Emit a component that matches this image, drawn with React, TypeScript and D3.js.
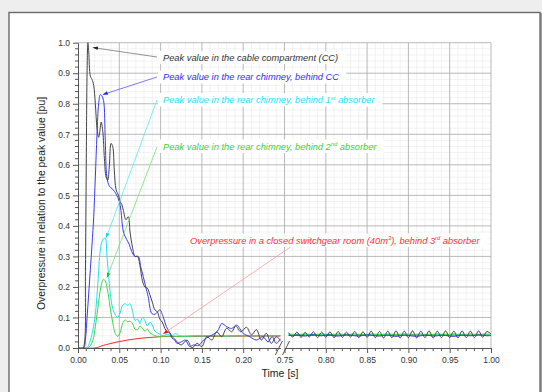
import React, { useRef, useEffect } from 'react';
import * as d3 from 'd3';

const W = 542;
const H = 392;

// peak value in the cable compartment (black)
const ccTime = [0, 0.006, 0.008, 0.009, 0.010, 0.011, 0.012, 0.013, 0.015, 0.017, 0.019, 0.021, 0.023, 0.025, 0.026, 0.028, 0.030, 0.032, 0.034, 0.036, 0.038, 0.040, 0.042, 0.044, 0.046, 0.049, 0.051, 0.053, 0.055, 0.058, 0.061, 0.063, 0.066, 0.069, 0.072, 0.075, 0.078, 0.081, 0.084, 0.087, 0.090, 0.093, 0.096, 0.099, 0.102, 0.105, 0.108, 0.111, 0.114, 0.117, 0.120, 0.125, 0.132, 0.138, 0.144, 0.150, 0.156, 0.162, 0.168, 0.174, 0.180, 0.186, 0.191, 0.197, 0.204, 0.210, 0.216, 0.222, 0.228, 0.234, 0.240, 0.245];
const ccValue = [0, 0, 0.02, 0.25, 0.6, 0.9, 1.0, 0.97, 0.89, 0.88, 0.86, 0.80, 0.72, 0.69, 0.70, 0.74, 0.71, 0.62, 0.56, 0.55, 0.60, 0.67, 0.66, 0.58, 0.52, 0.50, 0.48, 0.47, 0.45, 0.42, 0.43, 0.38, 0.33, 0.30, 0.30, 0.27, 0.22, 0.20, 0.196, 0.175, 0.15, 0.125, 0.119, 0.095, 0.085, 0.065, 0.053, 0.05, 0.037, 0.03, 0.02, 0.01, 0.026, 0.0, 0.015, 0.005, 0.037, 0.026, 0.053, 0.037, 0.065, 0.053, 0.072, 0.053, 0.068, 0.043, 0.06, 0.026, 0.048, 0.015, 0.037, 0.025];

// rear chimney behind CC (blue)
const rcTime = [0, 0.007, 0.009, 0.011, 0.013, 0.015, 0.017, 0.019, 0.021, 0.023, 0.025, 0.027, 0.029, 0.031, 0.033, 0.035, 0.038, 0.042, 0.046, 0.050, 0.052, 0.055, 0.059, 0.062, 0.065, 0.069, 0.073, 0.076, 0.079, 0.082, 0.085, 0.089, 0.092, 0.095, 0.099, 0.103, 0.107, 0.111, 0.114, 0.117, 0.120, 0.125, 0.130, 0.135, 0.140, 0.146, 0.152, 0.158, 0.166, 0.170, 0.174, 0.180, 0.186, 0.192, 0.200, 0.208, 0.216, 0.224, 0.230, 0.235, 0.240, 0.245];
const rcValue = [0, 0, 0.03, 0.10, 0.18, 0.26, 0.34, 0.43, 0.56, 0.70, 0.80, 0.83, 0.825, 0.81, 0.68, 0.56, 0.53, 0.52, 0.505, 0.48, 0.45, 0.38, 0.355, 0.34, 0.316, 0.30, 0.30, 0.265, 0.234, 0.20, 0.168, 0.114, 0.11, 0.114, 0.125, 0.103, 0.07, 0.05, 0.032, 0.026, 0.015, 0.02, 0.026, 0.005, 0.01, 0.008, 0.026, 0.037, 0.048, 0.06, 0.08, 0.07, 0.064, 0.075, 0.048, 0.037, 0.026, 0.037, 0.02, 0.037, 0.015, 0.03];

// rear chimney behind 1st absorber (cyan)
const a1Time = [0, 0.010, 0.012, 0.015, 0.018, 0.021, 0.024, 0.027, 0.030, 0.033, 0.035, 0.037, 0.039, 0.042, 0.045, 0.048, 0.051, 0.054, 0.057, 0.060, 0.063, 0.066, 0.069, 0.072, 0.075, 0.078, 0.081, 0.084, 0.087, 0.090, 0.093, 0.096, 0.099, 0.103, 0.108, 0.113, 0.118, 0.123, 0.130, 0.140, 0.150, 0.160, 0.170, 0.180, 0.190, 0.200, 0.210, 0.220, 0.230, 0.245];
const a1Value = [0, 0, 0.005, 0.025, 0.06, 0.11, 0.21, 0.32, 0.355, 0.36, 0.30, 0.24, 0.18, 0.13, 0.11, 0.10, 0.115, 0.14, 0.145, 0.14, 0.145, 0.12, 0.09, 0.095, 0.08, 0.10, 0.09, 0.072, 0.085, 0.075, 0.055, 0.05, 0.045, 0.04, 0.045, 0.04, 0.047, 0.04, 0.038, 0.04, 0.039, 0.04, 0.041, 0.039, 0.04, 0.041, 0.04, 0.041, 0.04, 0.041];

// rear chimney behind 2nd absorber (green)
const a2Time = [0, 0.012, 0.015, 0.018, 0.021, 0.024, 0.027, 0.029, 0.031, 0.033, 0.035, 0.037, 0.039, 0.041, 0.043, 0.045, 0.048, 0.051, 0.054, 0.057, 0.060, 0.063, 0.066, 0.069, 0.072, 0.075, 0.078, 0.081, 0.084, 0.087, 0.090, 0.093, 0.100, 0.110, 0.120, 0.135, 0.150, 0.170, 0.190, 0.210, 0.230, 0.245];
const a2Value = [0, 0, 0.008, 0.025, 0.07, 0.13, 0.19, 0.215, 0.225, 0.22, 0.20, 0.17, 0.13, 0.10, 0.07, 0.048, 0.038, 0.05, 0.08, 0.092, 0.086, 0.088, 0.08, 0.062, 0.06, 0.072, 0.065, 0.055, 0.062, 0.05, 0.045, 0.04, 0.038, 0.039, 0.038, 0.039, 0.04, 0.039, 0.04, 0.04, 0.04, 0.041];

// closed switchgear room behind 3rd absorber (red)
const a3Time = [0, 0.020, 0.025, 0.030, 0.040, 0.050, 0.060, 0.070, 0.080, 0.090, 0.100, 0.110, 0.130, 0.160, 0.200, 0.245];
const a3Value = [0, 0, 0.003, 0.008, 0.015, 0.021, 0.026, 0.030, 0.033, 0.035, 0.037, 0.038, 0.038, 0.038, 0.039, 0.039];

// after the axis break
const rightTime = [0.755, 0.76, 0.765, 0.77, 0.775, 0.78, 0.785, 0.79, 0.795, 0.8, 0.805, 0.81, 0.815, 0.82, 0.825, 0.83, 0.835, 0.84, 0.845, 0.85, 0.855, 0.86, 0.865, 0.87, 0.875, 0.88, 0.885, 0.89, 0.895, 0.9, 0.905, 0.91, 0.915, 0.92, 0.925, 0.93, 0.935, 0.94, 0.945, 0.95, 0.955, 0.96, 0.965, 0.97, 0.975, 0.98, 0.985, 0.99, 0.995, 1.0];
const ccRight = [0.050, 0.036, 0.052, 0.035, 0.051, 0.036, 0.053, 0.034, 0.052, 0.035, 0.053, 0.034, 0.054, 0.035, 0.052, 0.036, 0.054, 0.034, 0.053, 0.035, 0.055, 0.034, 0.054, 0.033, 0.055, 0.034, 0.056, 0.033, 0.055, 0.034, 0.056, 0.033, 0.055, 0.034, 0.056, 0.033, 0.055, 0.034, 0.056, 0.034, 0.055, 0.033, 0.056, 0.034, 0.055, 0.034, 0.056, 0.035, 0.054, 0.046];
const rcRight = [0.042, 0.040, 0.043, 0.041, 0.039, 0.042, 0.044, 0.041, 0.040, 0.042, 0.043, 0.040, 0.039, 0.041, 0.043, 0.042, 0.040, 0.039, 0.041, 0.043, 0.042, 0.040, 0.039, 0.041, 0.042, 0.040, 0.038, 0.040, 0.042, 0.041, 0.039, 0.038, 0.040, 0.042, 0.041, 0.039, 0.040, 0.042, 0.041, 0.039, 0.038, 0.040, 0.042, 0.041, 0.040, 0.041, 0.043, 0.042, 0.040, 0.041];
const a1Right = [0.044, 0.043, 0.045, 0.044, 0.043, 0.044, 0.045, 0.044, 0.043, 0.044, 0.045, 0.044, 0.043, 0.044, 0.045, 0.044, 0.043, 0.044, 0.045, 0.044, 0.043, 0.044, 0.045, 0.044, 0.043, 0.044, 0.045, 0.044, 0.043, 0.044, 0.045, 0.044, 0.043, 0.044, 0.045, 0.044, 0.043, 0.044, 0.045, 0.044, 0.043, 0.044, 0.045, 0.044, 0.043, 0.044, 0.045, 0.044, 0.043, 0.044];
const a2Right = [0.046, 0.045, 0.044, 0.045, 0.046, 0.045, 0.044, 0.045, 0.046, 0.045, 0.044, 0.045, 0.046, 0.045, 0.044, 0.045, 0.046, 0.045, 0.044, 0.045, 0.046, 0.045, 0.044, 0.045, 0.046, 0.045, 0.044, 0.045, 0.046, 0.045, 0.044, 0.045, 0.046, 0.045, 0.044, 0.045, 0.046, 0.045, 0.044, 0.045, 0.046, 0.045, 0.044, 0.045, 0.046, 0.045, 0.044, 0.045, 0.046, 0.045];
const a3RightTime = [0.755, 0.8, 0.85, 0.9, 0.95, 1.0];
const a3Right = [0.041, 0.041, 0.042, 0.042, 0.042, 0.042];

const xTicksLeft = [0, 0.05, 0.1, 0.15, 0.2];
const xTicksRight = [0.75, 0.8, 0.85, 0.9, 0.95, 1.0];
const yTicks = [0, 0.1, 0.2, 0.3, 0.4, 0.5, 0.6, 0.7, 0.8, 0.9, 1.0];

// annotation texts (odd parts are superscripts) and the point each arrow marks
const labelParts = [
  ['Peak value in the cable compartment (CC)'],
  ['Peak value in the rear chimney, behind CC'],
  ['Peak value in the rear chimney, behind 1', 'st', ' absorber'],
  ['Peak value in the rear chimney, behind 2', 'nd', ' absorber'],
  ['Overpressure in a closed switchgear room (40m', '3', '), behind 3', 'rd', ' absorber'],
];
const annotTime = [0.018, 0.030, 0.034, 0.035, 0.103];
const annotValue = [0.984, 0.83, 0.36, 0.23, 0.046];

const App = () => {
  const svgRef = useRef<SVGSVGElement>(null);

  useEffect(() => {
    const svg = d3.select(svgRef.current);
    svg.selectAll('*').remove();
    const font = '"Liberation Sans", Arial, sans-serif';

    // page + frame
    svg.append('rect').attr('width', W).attr('height', H).attr('fill', '#eeeeee');
    svg.append('rect').attr('x', 540).attr('y', 13).attr('width', 2).attr('height', H).attr('fill', '#a0a0a0');
    svg.append('rect').attr('x', 9).attr('y', 12.5).attr('width', 531).attr('height', H)
      .attr('fill', '#fff').attr('stroke', '#6a6a6a').attr('stroke-width', 1.4);

    const left = 78, right = 491, top = 42.7, bottom = 348;
    const x0 = d3.scaleLinear().domain([0, 0.245]).range([left, left + 0.245 * 826]);
    const x1 = d3.scaleLinear().domain([0.75, 1]).range([284.5, right]);
    const xAt = (t: number) => (t < 0.5 ? x0(t) : x1(t));
    const y = d3.scaleLinear().domain([0, 1]).range([bottom, top]);

    // grid
    const grid = svg.append('g');
    const minorX = [...d3.range(0.01, 0.245, 0.01), ...d3.range(0.76, 0.995, 0.01)]
      .filter((t) => Math.abs(t * 20 - Math.round(t * 20)) > 0.01);
    const minorY = d3.range(0.02, 1.0, 0.02).filter((v) => Math.abs(v * 10 - Math.round(v * 10)) > 0.01);
    grid.selectAll('.mx').data(minorX).enter().append('line')
      .attr('x1', xAt).attr('x2', xAt).attr('y1', top).attr('y2', bottom)
      .attr('stroke', '#ececec').attr('stroke-width', 0.7);
    grid.selectAll('.my').data(minorY).enter().append('line')
      .attr('x1', left).attr('x2', right).attr('y1', y).attr('y2', y)
      .attr('stroke', '#ececec').attr('stroke-width', 0.7);
    grid.selectAll('.Mx').data([...xTicksLeft.slice(1), ...xTicksRight]).enter().append('line')
      .attr('x1', xAt).attr('x2', xAt).attr('y1', top).attr('y2', bottom)
      .attr('stroke', '#a8a8a8').attr('stroke-width', 0.8);
    grid.selectAll('.My').data(yTicks.slice(1)).enter().append('line')
      .attr('x1', left).attr('x2', right).attr('y1', y).attr('y2', y)
      .attr('stroke', '#a8a8a8').attr('stroke-width', 0.8);

    // curves (black drawn last so its oscillation stays visible)
    const line = d3.line<[number, number]>()
      .x((d) => xAt(d[0])).y((d) => y(d[1]))
      .curve(d3.curveCatmullRom.alpha(0.5));
    const series = [
      { t: a3Time, v: a3Value, tr: a3RightTime, vr: a3Right, color: '#ff2626' },
      { t: a1Time, v: a1Value, tr: rightTime, vr: a1Right, color: '#1fe3ef' },
      { t: a2Time, v: a2Value, tr: rightTime, vr: a2Right, color: '#3fd83f' },
      { t: rcTime, v: rcValue, tr: rightTime, vr: rcRight, color: '#3c3cf0' },
      { t: ccTime, v: ccValue, tr: rightTime, vr: ccRight, color: '#454545' },
    ];
    const curves = svg.append('g').attr('fill', 'none').attr('stroke-width', 1);
    series.forEach((s) => {
      curves.append('path').attr('d', line(s.t.map((t, i) => [t, s.v[i]] as [number, number])))
        .attr('stroke', s.color);
      curves.append('path').attr('d', line(s.tr.map((t, i) => [t, s.vr[i]] as [number, number])))
        .attr('stroke', s.color);
    });

    // axes
    const axes = svg.append('g').attr('font-family', font);
    const fmt2 = d3.format('.2f');
    const style = (g: any) => {
      g.selectAll('path.domain').attr('stroke', '#555');
      g.selectAll('line').attr('stroke', '#555');
      g.selectAll('text').attr('fill', '#333').attr('font-size', 8.5).attr('font-family', font);
    };
    axes.append('g').attr('transform', `translate(0,${bottom})`)
      .call(d3.axisBottom(x0).tickValues(xTicksLeft).tickFormat(fmt2 as any).tickSize(5).tickSizeOuter(0).tickPadding(4))
      .call(style);
    axes.append('g').attr('transform', `translate(0,${bottom})`)
      .call(d3.axisBottom(x1).tickValues(xTicksRight).tickFormat(fmt2 as any).tickSize(5).tickSizeOuter(0).tickPadding(4))
      .call(style);
    axes.selectAll('.mtx').data(minorX).enter().append('line')
      .attr('x1', xAt).attr('x2', xAt).attr('y1', bottom).attr('y2', bottom + 3)
      .attr('stroke', '#555');
    axes.append('g').attr('transform', `translate(${left},0)`)
      .call(d3.axisLeft(y).tickValues(yTicks).tickFormat(d3.format('.1f') as any).tickSize(5).tickSizeOuter(0).tickPadding(3))
      .call(style);
    axes.selectAll('.mty').data(minorY).enter().append('line')
      .attr('x1', left - 3).attr('x2', left).attr('y1', y).attr('y2', y)
      .attr('stroke', '#555');

    // axis break marks
    const bx0 = x0(0.245), bx1 = x1(0.75);
    [bx0 - 1.5, bx1 + 1.5].forEach((bx) => {
      axes.append('line').attr('x1', bx - 3.5).attr('y1', bottom + 7).attr('x2', bx + 3.5).attr('y2', bottom - 7)
        .attr('stroke', '#555').attr('stroke-width', 1);
    });

    axes.append('text').attr('x', 280).attr('y', 377).attr('text-anchor', 'middle')
      .attr('font-size', 10.5).attr('fill', '#222').text('Time [s]');
    axes.append('text').attr('transform', 'translate(45,203.5) rotate(-90)').attr('text-anchor', 'middle')
      .attr('font-size', 10.4).attr('fill', '#222').text('Overpressure in relation to the peak value [pu]');

    // annotations
    const labelPos = [[163, 60.5], [163, 80], [163, 103], [163, 149.5], [190, 243.5]];
    const leaderEnd = [[157, 57], [157, 77], [157, 100], [157, 147], [292, 246]];
    const textColor = ['#333333', '#3030ff', '#22e4f4', '#33d633', '#ff3030'];
    const leaderColor = ['#777777', '#5a5aff', '#55eaf8', '#77dd77', '#ff9c9c'];
    const arrowColor = ['#222222', '#2020ee', '#10d8e8', '#22b822', '#ee1111'];
    const ann = svg.append('g').attr('font-family', font);
    labelParts.forEach((parts, i) => {
      const ax = xAt(annotTime[i]);
      const ay = y(annotValue[i]);
      const [ex, ey] = leaderEnd[i];
      ann.append('line').attr('x1', ax).attr('y1', ay).attr('x2', ex).attr('y2', ey)
        .attr('stroke', leaderColor[i]).attr('stroke-width', 0.8);
      const ang = Math.atan2(ey - ay, ex - ax);
      const len = 5, half = 1.8;
      const bx = ax + len * Math.cos(ang), by = ay + len * Math.sin(ang);
      const px = -Math.sin(ang) * half, py = Math.cos(ang) * half;
      ann.append('path')
        .attr('d', `M${ax},${ay}L${bx + px},${by + py}L${bx - px},${by - py}Z`)
        .attr('fill', arrowColor[i]);

      const box = ann.append('rect').attr('fill', '#fff');
      const text = ann.append('text').attr('x', labelPos[i][0]).attr('y', labelPos[i][1])
        .attr('font-size', 9.3).attr('font-style', 'italic').attr('fill', textColor[i]);
      parts.forEach((p, k) => {
        const sup = k % 2 === 1;
        const prevSup = k > 0 && (k - 1) % 2 === 1;
        const ts = text.append('tspan').text(p);
        if (sup) ts.attr('dy', -3.5).attr('font-size', 5.8);
        else if (prevSup) ts.attr('dy', 3.5);
      });
      const bb = (text.node() as SVGTextElement).getBBox();
      box.attr('x', bb.x - 5).attr('y', bb.y - 1.5).attr('width', bb.width + 12).attr('height', bb.height + 3);
    });
  }, []);

  return (
    <svg ref={svgRef} width={W} height={H}
      style={{ position: 'absolute', left: 0, top: 0, display: 'block' }} />
  );
};

export default App;
